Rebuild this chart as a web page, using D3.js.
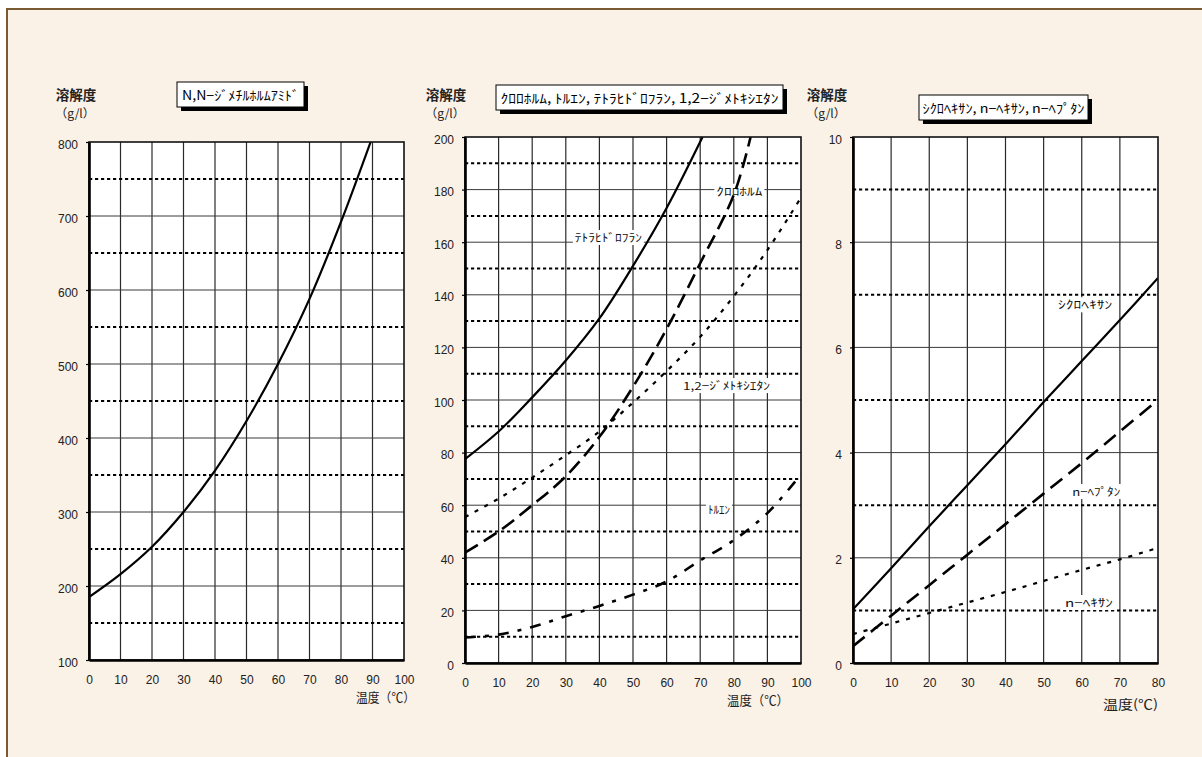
<!DOCTYPE html>
<html>
<head>
<meta charset="utf-8">
<script src="https://cdn.jsdelivr.net/npm/d3@7"></script>
<style>
  html, body { margin: 0; padding: 0; background: #ffffff; }
  svg { display: block; }
</style>
</head>
<body>
<svg id="chart" width="1202" height="757"></svg>
<script>
// ---- data: solubility (g/l) versus temperature (°C) ----
// N,N-dimethylformamide
const dmfTemp = [0, 10, 20, 30, 40, 50, 60, 70, 80, 89.4];
const dmfSol  = [185, 216, 253, 300, 356, 423, 500, 588, 692, 800];

// chloroform, toluene, tetrahydrofuran, 1,2-dimethoxyethane
const thfTemp = [0, 10, 20, 30, 40, 50, 60, 70.7];
const thfSol  = [77.5, 88, 101, 115, 131, 151, 173, 200];
const chlTemp = [0, 10, 20, 30, 40, 50, 60, 70, 80, 85];
const chlSol  = [42, 50, 60, 71, 86, 105, 127, 152, 178, 200];
const dmeTemp = [0, 10, 20, 30, 40, 50, 60, 70, 80, 90, 100];
const dmeSol  = [55.5, 62.5, 70.5, 79, 88, 99, 111, 124, 139.5, 157, 177];
const tolTemp = [0, 10, 20, 30, 40, 50, 60, 70, 80, 90, 100];
const tolSol  = [9.7, 10.8, 13.7, 17.8, 21.7, 26, 31, 39, 46.7, 57, 71.7];

// cyclohexane, n-hexane, n-heptane
const hxTemp   = [0, 10, 20, 30, 40, 50, 60, 70, 80];
const cycSol   = [1.02, 1.8, 2.6, 3.38, 4.16, 4.96, 5.74, 6.52, 7.32];
const heptSol  = [0.32, 0.9, 1.48, 2.06, 2.64, 3.22, 3.8, 4.4, 5.0];
const hexSol   = [0.55, 0.75, 0.95, 1.15, 1.35, 1.56, 1.77, 1.97, 2.19];

// tick labels
const xTicks100 = [0, 10, 20, 30, 40, 50, 60, 70, 80, 90, 100];
const xTicks80  = [0, 10, 20, 30, 40, 50, 60, 70, 80];
const yTicksDmf = [100, 200, 300, 400, 500, 600, 700, 800];
const yMinorDmf = [150, 250, 350, 450, 550, 650, 750];
const yTicksMid = [0, 20, 40, 60, 80, 100, 120, 140, 160, 180, 200];
const yMinorMid = [10, 30, 50, 70, 90, 110, 130, 150, 170, 190];
const yTicksHx  = [0, 2, 4, 6, 8, 10];
const yMinorHx  = [1, 3, 5, 7, 9];

const titles = [
  "N,N\u2212\uFF7C\uFF9E\uFF92\uFF81\uFF99\uFF8E\uFF99\uFF91\uFF71\uFF90\uFF84\uFF9E",
  "\uFF78\uFF9B\uFF9B\uFF8E\uFF99\uFF91, \uFF84\uFF99\uFF74\uFF9D, \uFF83\uFF84\uFF97\uFF8B\uFF84\uFF9E\uFF9B\uFF8C\uFF97\uFF9D, 1,2\u2212\uFF7C\uFF9E\uFF92\uFF84\uFF77\uFF7C\uFF74\uFF80\uFF9D",
  "\uFF7C\uFF78\uFF9B\uFF8D\uFF77\uFF7B\uFF9D, n\u2212\uFF8D\uFF77\uFF7B\uFF9D, n\u2212\uFF8D\uFF8C\uFF9F\uFF80\uFF9D"
];

const FONT = "'Liberation Sans', Arial, sans-serif";
const JFONT = "'Noto Sans CJK JP', 'Noto Sans JP', sans-serif";

const svg = d3.select("#chart");

// page background and frame
svg.append("rect").attr("x", 7).attr("y", 9).attr("width", 1220).attr("height", 780)
  .attr("fill", "#faf1e7").attr("stroke", "#7a5a32").attr("stroke-width", 2);

const panels = [
  {
    x: [89, 404], y: [660, 142], xDom: [0, 100], yDom: [100, 800],
    xTicks: xTicks100, yTicks: yTicksDmf, yMinor: yMinorDmf,
    title: titles[0], box: [177, 82, 127, 25], titleLen: 117,
    yTitleX: 76, xTitle: "\u6E29\u5EA6\uFF08\u2103\uFF09", xTitleX: 415, xTitleY: 702, xTitleLen: 59,
    series: [
      { t: dmfTemp, v: dmfSol, w: 2.2, dash: null }
    ],
    labels: []
  },
  {
    x: [465, 801], y: [663, 137], xDom: [0, 100], yDom: [0, 200],
    xTicks: xTicks100, yTicks: yTicksMid, yMinor: yMinorMid,
    title: titles[1], box: [496, 85, 287, 25], titleLen: 278,
    yTitleX: 446, xTitle: "\u6E29\u5EA6\uFF08\u2103\uFF09", xTitleX: 789, xTitleY: 705, xTitleLen: 62,
    series: [
      { t: thfTemp, v: thfSol, w: 2.2, dash: null },
      { t: chlTemp, v: chlSol, w: 2.6, dash: "15,7" },
      { t: dmeTemp, v: dmeSol, w: 2.2, dash: "4,7" },
      { t: tolTemp, v: tolSol, w: 2.6, dash: "11,9,4,9" }
    ],
    labels: [
      { text: "\uFF78\uFF9B\uFF9B\uFF8E\uFF99\uFF91", x: 74.8, y: 179.2, len: 46 },
      { text: "\uFF83\uFF84\uFF97\uFF8B\uFF84\uFF9E\uFF9B\uFF8C\uFF97\uFF9D", x: 32.7, y: 161.6, len: 67 },
      { text: "1,2\u2212\uFF7C\uFF9E\uFF92\uFF84\uFF77\uFF7C\uFF74\uFF80\uFF9D", x: 64.9, y: 105.3, len: 87 },
      { text: "\uFF84\uFF99\uFF74\uFF9D", x: 72.3, y: 58.2, len: 22 }
    ]
  },
  {
    x: [853, 1158], y: [663, 137], xDom: [0, 80], yDom: [0, 10],
    xTicks: xTicks80, yTicks: yTicksHx, yMinor: yMinorHx,
    title: titles[2], box: [919, 95, 169, 25], titleLen: 162,
    yTitleX: 827, xTitle: "\u6E29\u5EA6(\u2103)", xTitleX: 1158, xTitleY: 709, xTitleLen: 55,
    series: [
      { t: hxTemp, v: cycSol, w: 2.2, dash: null },
      { t: hxTemp, v: heptSol, w: 2.6, dash: "15,8" },
      { t: hxTemp, v: hexSol, w: 2.2, dash: "4,7" }
    ],
    labels: [
      { text: "\uFF7C\uFF78\uFF9B\uFF8D\uFF77\uFF7B\uFF9D", x: 53.8, y: 6.8, len: 54 },
      { text: "n\u2212\uFF8D\uFF8C\uFF9F\uFF80\uFF9D", x: 57.5, y: 3.25, len: 48 },
      { text: "n\u2212\uFF8D\uFF77\uFF7B\uFF9D", x: 55.6, y: 1.14, len: 48 }
    ]
  }
];

panels.forEach((p, pi) => {
  const x = d3.scaleLinear().domain(p.xDom).range(p.x);
  const y = d3.scaleLinear().domain(p.yDom).range(p.y);
  const g = svg.append("g");
  const [x0, x1] = p.x, [yb, yt] = p.y;

  // plot area
  g.append("rect").attr("x", x0).attr("y", yt).attr("width", x1 - x0).attr("height", yb - yt)
    .attr("fill", "#ffffff");

  // vertical grid
  g.selectAll(".vg").data(p.xTicks.slice(1, -1)).join("line")
    .attr("x1", d => x(d)).attr("x2", d => x(d)).attr("y1", yt).attr("y2", yb)
    .attr("stroke", "#2a2a2a").attr("stroke-width", 1.2);
  // solid horizontal grid
  g.selectAll(".hg").data(p.yTicks.slice(1, -1)).join("line")
    .attr("x1", x0).attr("x2", x1).attr("y1", d => y(d)).attr("y2", d => y(d))
    .attr("stroke", "#3a3a3a").attr("stroke-width", 1);
  // dotted horizontal grid
  g.selectAll(".hd").data(p.yMinor).join("line")
    .attr("x1", x0).attr("x2", x1).attr("y1", d => y(d)).attr("y2", d => y(d))
    .attr("stroke", "#000").attr("stroke-width", 2).attr("stroke-dasharray", "3.2,2.8");

  // in-plot series labels on white patches
  p.labels.forEach(l => {
    const lx = x(l.x), ly = y(l.y);
    g.append("rect").attr("x", lx - 2).attr("y", ly - 8).attr("width", l.len + 4).attr("height", 15)
      .attr("fill", "#ffffff");
    g.append("text").attr("x", lx).attr("y", ly + 4).text(l.text)
      .attr("font-family", JFONT).attr("font-size", 11).attr("fill", "#111")
      .attr("textLength", l.len).attr("lengthAdjust", "spacingAndGlyphs");
  });

  // curves, clipped to the plot area
  const clipId = "clip" + pi;
  svg.append("clipPath").attr("id", clipId).append("rect")
    .attr("x", x0).attr("y", yt).attr("width", x1 - x0).attr("height", yb - yt);
  const line = d3.line().x(d => x(d[0])).y(d => y(d[1])).curve(d3.curveCatmullRom.alpha(0.5));
  p.series.forEach(s => {
    g.append("path").datum(s.t.map((t, i) => [t, s.v[i]]))
      .attr("d", line).attr("clip-path", `url(#${clipId})`)
      .attr("fill", "none").attr("stroke", "#000").attr("stroke-width", s.w)
      .attr("stroke-dasharray", s.dash).attr("stroke-linejoin", "round");
  });

  // frame
  g.append("rect").attr("x", x0).attr("y", yt).attr("width", x1 - x0).attr("height", yb - yt)
    .attr("fill", "none").attr("stroke", "#111").attr("stroke-width", 1.6);

  // axes
  const ax = g.append("g").attr("transform", `translate(0,${yb})`)
    .call(d3.axisBottom(x).tickValues(p.xTicks).tickSize(0).tickPadding(15));
  ax.select(".domain").attr("stroke", "#000").attr("stroke-width", 2.6);
  ax.selectAll("text").attr("font-family", FONT).attr("font-size", 12).attr("fill", "#222");

  const ay = g.append("g").attr("transform", `translate(${x0},0)`)
    .call(d3.axisLeft(y).tickValues(p.yTicks).tickSize(3).tickSizeOuter(0).tickPadding(8));
  ay.select(".domain").attr("stroke", "#000").attr("stroke-width", 2.6);
  ay.selectAll(".tick line").attr("stroke", "#000").attr("stroke-width", 1.2);
  ay.selectAll("text").attr("font-family", FONT).attr("font-size", 12).attr("fill", "#222")
    .attr("dy", "0.5em");

  // axis titles
  g.append("text").attr("x", p.yTitleX).attr("y", 100).attr("text-anchor", "middle")
    .text("\u6EB6\u89E3\u5EA6").attr("font-family", JFONT).attr("font-size", 13.5)
    .attr("font-weight", "bold").attr("fill", "#222");
  g.append("text").attr("x", p.yTitleX - 1).attr("y", 118).attr("text-anchor", "middle")
    .text("\uFF08g/l\uFF09").attr("font-family", JFONT).attr("font-size", 12).attr("fill", "#222");
  g.append("text").attr("x", p.xTitleX - p.xTitleLen).attr("y", p.xTitleY)
    .text(p.xTitle).attr("font-family", JFONT).attr("font-size", 13).attr("fill", "#222")
    .attr("textLength", p.xTitleLen).attr("lengthAdjust", "spacingAndGlyphs");

  // title box with drop shadow
  const [bx, by, bw, bh] = p.box;
  g.append("rect").attr("x", bx + 4).attr("y", by + 4).attr("width", bw).attr("height", bh).attr("fill", "#000");
  g.append("rect").attr("x", bx).attr("y", by).attr("width", bw).attr("height", bh)
    .attr("fill", "#fff").attr("stroke", "#000").attr("stroke-width", 1);
  g.append("text").attr("x", bx + (bw - p.titleLen) / 2).attr("y", by + bh / 2 + 5)
    .text(p.title).attr("font-family", JFONT).attr("font-size", 13).attr("fill", "#000")
    .attr("textLength", p.titleLen).attr("lengthAdjust", "spacingAndGlyphs");
});
</script>
</body>
</html>
